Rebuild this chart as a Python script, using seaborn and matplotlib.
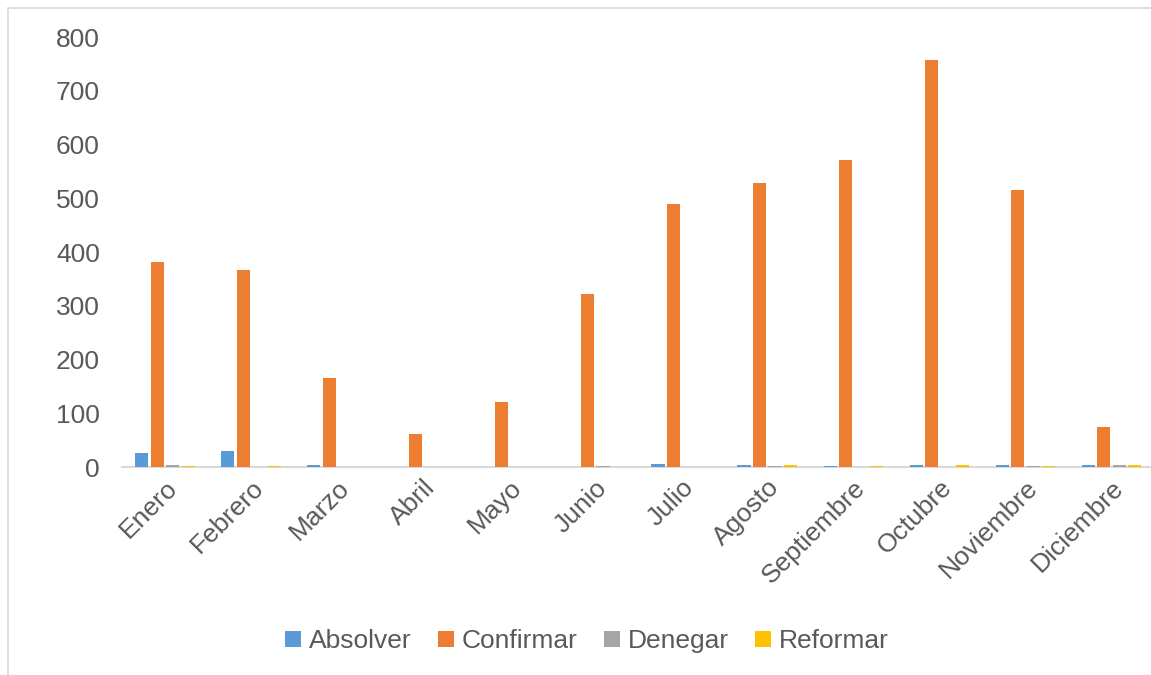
import numpy as np
import pandas as pd
import seaborn as sns
import matplotlib.pyplot as plt
from matplotlib.patches import Rectangle

months = ["Enero", "Febrero", "Marzo", "Abril", "Mayo", "Junio", "Julio",
          "Agosto", "Septiembre", "Octubre", "Noviembre", "Diciembre"]
absolver = [27, 30, 4, 0, 1, 1, 6, 4, 2, 4, 4, 4]
confirmar = [382, 367, 166, 61, 121, 322, 490, 529, 571, 757, 516, 74]
denegar = [4, 0, 1, 0, 0, 2, 0, 2, 0, 1, 2, 4]
reformar = [2, 2, 1, 0, 0, 0, 0, 4, 2, 4, 2, 3]

series = {"Absolver": absolver, "Confirmar": confirmar,
          "Denegar": denegar, "Reformar": reformar}
colors = ["#5B9BD5", "#ED7D31", "#A5A5A5", "#FFC000"]

rows = []
for name, vals in series.items():
    for m, v in zip(months, vals):
        rows.append({"mes": m, "serie": name, "valor": v})
df = pd.DataFrame(rows)

sns.set_style("white")
plt.rcParams["font.family"] = ["Liberation Sans", "DejaVu Sans"]
txt = "#595959"

fig = plt.figure(figsize=(11.51, 6.75), dpi=100)
ax = fig.add_axes([0.106, 0.308, 0.897, 0.637])

sns.barplot(data=df, x="mes", y="valor", hue="serie", order=months,
            hue_order=list(series), palette=colors, width=0.72, gap=0.15,
            saturation=1, errorbar=None, linewidth=0, ax=ax)

ax.set_ylim(0, 800)
ax.set_yticks(range(0, 801, 100))
ax.set_xlim(-0.5, 11.5)
ax.set_xlabel("")
ax.set_ylabel("")
for s in ["top", "right", "left"]:
    ax.spines[s].set_visible(False)
ax.spines["bottom"].set_color("#D9D9D9")
ax.spines["bottom"].set_linewidth(1.5)
ax.spines["bottom"].set_zorder(0.5)
ax.tick_params(axis="both", length=0, labelsize=19, colors=txt)
ax.tick_params(axis="y", pad=16)
ax.tick_params(axis="x", pad=6)
plt.setp(ax.get_xticklabels(), rotation=45, ha="right", rotation_mode="anchor")

ax.legend(loc="center", bbox_to_anchor=(0.51, 0.05), bbox_transform=fig.transFigure,
          ncol=4, frameon=False, fontsize=19, labelcolor=txt,
          handlelength=0.6, handleheight=0.6, handletextpad=0.3,
          columnspacing=1.0)

fig.patches.append(Rectangle((0.007, -0.01), 1.1, 0.998, transform=fig.transFigure,
                             fill=False, edgecolor="#D9D9D9", linewidth=1.2))

fig.savefig("out.png", dpi=100)
